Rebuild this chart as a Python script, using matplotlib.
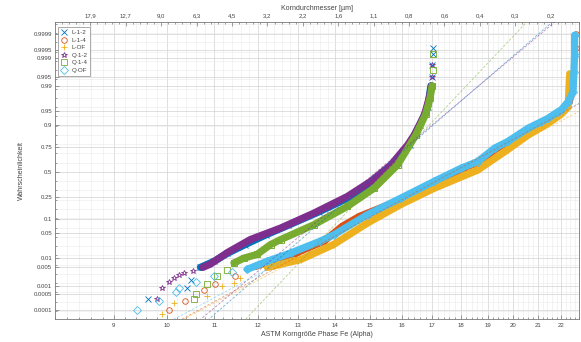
import numpy as np
import matplotlib
matplotlib.use("Agg")
import matplotlib.pyplot as plt
from matplotlib.ticker import FixedLocator, FuncFormatter, NullFormatter, MultipleLocator
from statistics import NormalDist

plt.rcParams["font.family"] = ["Liberation Sans", "DejaVu Sans"]

# --- data: ASTM grain size vs. cumulative probability (normal probability plot) ---
names = ["L-1-2", "L-1-4", "L-OF", "Q-1-2", "Q-1-4", "Q-OF"]

# sparse points in the tails, dense ridge of the sorted samples
l12_sparse_g = [9.63, 10.42, 10.49, 16.99, 17.01, 17.02, 17.02]
l12_sparse_p = [0.0003, 0.0009, 0.0018, 0.995, 0.998, 0.9993, 0.9996]
l12_band_g = [10.70, 11.00, 11.29, 11.70, 12.20, 12.75, 13.55, 14.50, 15.20, 15.80, 16.25, 16.60, 16.85, 16.96]
l12_band_p = [0.005, 0.008, 0.014, 0.025, 0.045, 0.075, 0.140, 0.260, 0.410, 0.580, 0.770, 0.900, 0.960, 0.990]

l14_sparse_g = [10.04, 10.37, 10.77, 11.02, 11.47, 22.68, 22.68]
l14_sparse_p = [0.0001, 0.00024, 0.0007, 0.0013, 0.0024, 0.9996, 0.9999]
l14_band_g = [11.94, 12.40, 12.95, 13.70, 14.20, 14.70, 16.10, 17.15, 18.10, 18.70, 19.35, 19.87, 20.67, 21.23,
              21.50, 21.92, 22.05, 22.35, 22.50]
l14_band_p = [0.0054, 0.009, 0.0143, 0.031, 0.071, 0.115, 0.240, 0.400, 0.540, 0.610, 0.740, 0.795, 0.881, 0.913,
              0.926, 0.948, 0.953, 0.971, 0.985]

lof_sparse_g = [9.91, 10.15, 10.84, 11.17, 11.44, 11.58]
lof_sparse_p = [0.00006, 0.0002, 0.0004, 0.001, 0.0014, 0.0021]
lof_band_g = [12.23, 13.07, 13.96, 14.94, 15.97, 17.07, 18.62, 19.78, 20.59, 21.43, 21.99, 22.31, 22.34, 22.38]
lof_band_p = [0.005, 0.009, 0.025, 0.084, 0.190, 0.330, 0.520, 0.728, 0.840, 0.905, 0.940, 0.960, 0.985, 0.996]

q12_sparse_g = [9.81, 9.91, 10.05, 10.14, 10.24, 10.35, 10.55, 17.00, 17.01]
q12_sparse_p = [0.0003, 0.0009, 0.0015, 0.0021, 0.0027, 0.0033, 0.0039, 0.995, 0.998]
q12_band_g = [10.75, 10.91, 11.30, 11.82, 12.56, 13.42, 14.35, 15.04, 15.66, 16.19, 16.40, 16.74, 16.90, 16.98]
q12_band_p = [0.005, 0.0064, 0.015, 0.034, 0.065, 0.133, 0.254, 0.400, 0.577, 0.768, 0.840, 0.938, 0.977, 0.990]

q14_sparse_g = [10.56, 10.61, 10.84, 11.06, 11.29, 17.02, 17.02]
q14_sparse_p = [0.0003, 0.0005, 0.0013, 0.0024, 0.0042, 0.997, 0.9993]
q14_band_g = [11.44, 11.67, 11.98, 12.31, 12.56, 13.42, 14.35, 15.14, 15.87, 16.45, 16.78, 16.93, 17.00]
q14_band_p = [0.007, 0.010, 0.013, 0.025, 0.034, 0.077, 0.176, 0.331, 0.577, 0.840, 0.940, 0.977, 0.990]

qof_sparse_g = [9.42, 9.84, 10.18, 10.25, 10.61, 11.00, 11.40]
qof_sparse_p = [0.0001, 0.00025, 0.0006, 0.0009, 0.0015, 0.0025, 0.0035]
qof_band_g = [11.75, 12.23, 12.81, 13.60, 13.97, 14.94, 15.97, 17.07, 18.01, 18.62, 19.26, 19.78, 20.59, 21.15,
              21.43, 21.86, 22.00, 22.31, 22.53, 22.57, 22.60, 22.60]
qof_band_p = [0.0043, 0.008, 0.0143, 0.031, 0.045, 0.125, 0.240, 0.400, 0.540, 0.610, 0.740, 0.795, 0.881, 0.913,
              0.926, 0.948, 0.953, 0.971, 0.985, 0.9966, 0.9992, 0.99989]

sparse_g = [l12_sparse_g, l14_sparse_g, lof_sparse_g, q12_sparse_g, q14_sparse_g, qof_sparse_g]
sparse_p = [l12_sparse_p, l14_sparse_p, lof_sparse_p, q12_sparse_p, q14_sparse_p, qof_sparse_p]
band_g = [l12_band_g, l14_band_g, lof_band_g, q12_band_g, q14_band_g, qof_band_g]
band_p = [l12_band_p, l14_band_p, lof_band_p, q12_band_p, q14_band_p, qof_band_p]

# axis ticks
astm_ticks = list(range(9, 23))
diam_labels = ["17,9", "12,7", "9,0", "6,3", "4,5", "3,2", "2,2", "1,6", "1,1", "0,8", "0,6", "0,4", "0,3", "0,2"]
prob_ticks = [0.0001, 0.0005, 0.001, 0.005, 0.01, 0.05, 0.1, 0.25, 0.5, 0.75, 0.9, 0.95, 0.99, 0.995, 0.999, 0.9995, 0.9999]

colors = [(0, 0.447, 0.741), (0.85, 0.325, 0.098), (0.929, 0.694, 0.125),
          (0.494, 0.184, 0.556), (0.466, 0.674, 0.188), (0.301, 0.745, 0.933)]
markers = ["x", "o", "+", "*", "s", "D"]

# --- probability (probit) scale ---
nd = NormalDist()
_inv = np.vectorize(nd.inv_cdf, otypes=[float])
_cdf = np.vectorize(nd.cdf, otypes=[float])


def prob_fwd(p):
    return _inv(np.clip(np.asarray(p, dtype=float), 1e-12, 1 - 1e-12))


def prob_inv(z):
    return _cdf(np.asarray(z, dtype=float))


def quartile_line(g, p):
    # reference line through the 1st and 3rd quartile (log grain size vs. z)
    z = prob_fwd(p)
    lg = np.log(g)
    z25, z75 = nd.inv_cdf(0.25), nd.inv_cdf(0.75)
    l25 = np.interp(z25, z, lg)
    l75 = np.interp(z75, z, lg)
    zz = np.linspace(-4.3, 4.3, 60)
    gg = np.exp(l25 + (zz - z25) * (l75 - l25) / (z75 - z25))
    return gg, prob_inv(zz)


fig = plt.figure(figsize=(5.81, 3.42), dpi=100)
ax = fig.add_axes([55 / 581, 23 / 342, 524 / 581, 297 / 342])
ax.set_xscale("log")
ax.set_yscale("function", functions=(prob_fwd, prob_inv))

handles = []
for i in range(6):
    c = colors[i]
    ax.plot(band_g[i], band_p[i], "-", color=c, lw=5.2, solid_capstyle="round",
            solid_joinstyle="round", zorder=3 + i * 0.1)
    ax.plot(band_g[i], band_p[i], linestyle="none", marker=markers[i], ms=4, mew=0.7,
            mfc="none", color=c, zorder=3 + i * 0.1)
    h, = ax.plot(sparse_g[i], sparse_p[i], linestyle="none", marker=markers[i], ms=4, mew=0.6,
                 mfc="none", color=c, label=names[i], zorder=3 + i * 0.1)
    handles.append(h)

for i in range(6):
    lg, lp = quartile_line(band_g[i], band_p[i])
    ax.plot(lg, lp, "--", color=colors[i], lw=0.6, alpha=0.55, dashes=(3, 2), zorder=4)

ax.set_xlim(8, 22.8)
ax.set_ylim(nd.cdf(-3.97), nd.cdf(4.05))

ax.xaxis.set_major_locator(FixedLocator(astm_ticks))
ax.xaxis.set_major_formatter(FuncFormatter(lambda v, pos: "%d" % round(v)))
ax.xaxis.set_minor_locator(FixedLocator(np.arange(8, 22.81, 0.2)))
ax.xaxis.set_minor_formatter(NullFormatter())

ax.yaxis.set_major_locator(FixedLocator(prob_ticks))
ax.yaxis.set_major_formatter(FuncFormatter(lambda v, pos: "%g" % float("%.4g" % v)))
ax.yaxis.set_minor_locator(FixedLocator(prob_inv(np.arange(-4, 4.01, 0.25))))
ax.yaxis.set_minor_formatter(NullFormatter())

ax.grid(which="major", color="#d2d2d2", lw=0.5)
ax.grid(which="minor", color="#ebebeb", lw=0.4)
ax.set_axisbelow(True)

txt = "#444444"
for s in ax.spines.values():
    s.set_color("#777777")
    s.set_linewidth(0.6)
ax.tick_params(which="both", direction="in", colors="#777777", labelcolor=txt, labelsize=4.3, width=0.5)
ax.tick_params(which="major", length=3, pad=3)
ax.tick_params(which="minor", length=1.5)
ax.tick_params(axis="y", pad=2)

ax.set_xlabel("ASTM Korngröße Phase Fe (Alpha)", fontsize=5, color=txt, labelpad=2)
ax.set_ylabel("Wahrscheinlichkeit", fontsize=5, color=txt, labelpad=6)

top = ax.twiny()
top.set_xlim(8, 22.8)
top.set_xticks(astm_ticks)
top.set_xticklabels(diam_labels)
top.xaxis.set_minor_locator(MultipleLocator(0.2))
top.tick_params(which="both", direction="in", colors="#777777", labelcolor=txt, labelsize=4.3, width=0.5)
top.tick_params(which="major", length=3, pad=3)
top.tick_params(which="minor", length=1.5)
top.set_xlabel("Korndurchmesser [µm]", fontsize=5, color=txt, labelpad=2)
for s in top.spines.values():
    s.set_visible(False)

leg = ax.legend(handles=handles, loc="upper left", bbox_to_anchor=(0.006, 0.982), borderaxespad=0,
                fontsize=4.5, frameon=True, fancybox=False, edgecolor="#888888", framealpha=1,
                handlelength=1.2, handletextpad=0.6, labelspacing=0.35, borderpad=0.4)
leg.get_frame().set_linewidth(0.5)
for t in leg.get_texts():
    t.set_color(txt)

fig.savefig("out.png", dpi=100)
